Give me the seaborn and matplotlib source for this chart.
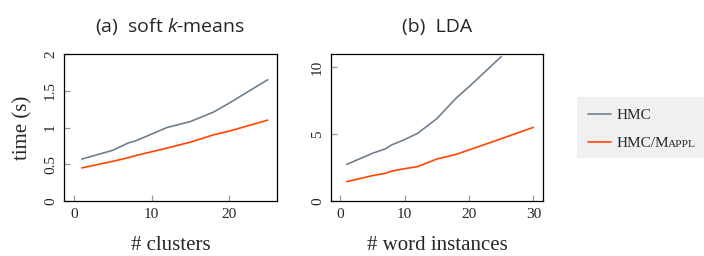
import matplotlib
matplotlib.use("Agg")
import matplotlib.pyplot as plt
from matplotlib.patches import Rectangle
from matplotlib.transforms import IdentityTransform
import seaborn as sns
import pandas as pd

# ---- data ----
methods = ["HMC", "HMC/Mappl"]

kmeans_x_hmc = [1, 5, 7, 8, 10, 12, 15, 18, 20, 25]
kmeans_y_hmc = [0.57, 0.69, 0.79, 0.82, 0.91, 1.00, 1.08, 1.21, 1.33, 1.65]
kmeans_x_mappl = [1, 5, 7, 8, 10, 12, 15, 18, 20, 25]
kmeans_y_mappl = [0.45, 0.54, 0.59, 0.62, 0.67, 0.72, 0.80, 0.90, 0.95, 1.10]

lda_x_hmc = [1, 5, 7, 8, 10, 12, 15, 18, 20, 25]
lda_y_hmc = [2.74, 3.57, 3.90, 4.20, 4.60, 5.06, 6.16, 7.70, 8.55, 10.80]
lda_x_mappl = [1, 5, 7, 8, 10, 12, 15, 18, 20, 25, 30]
lda_y_mappl = [1.45, 1.90, 2.07, 2.24, 2.42, 2.57, 3.14, 3.49, 3.82, 4.66, 5.51]

kmeans_yticks = [0, 0.5, 1, 1.5, 2]
kmeans_yticklabels = ["0", "0.5", "1", "1.5", "2"]
kmeans_xticks = [0, 10, 20]
lda_yticks = [0, 5, 10]
lda_xticks = [0, 10, 20, 30]

titles = ["(a)  soft $k$-means", "(b)  LDA"]
xlabels = ["# clusters", "# word instances"]
ylabel = "time (s)"

colors = {"HMC": "#708090", "HMC/Mappl": "#ff4500"}


def long_df(xh, yh, xm, ym):
    return pd.concat([
        pd.DataFrame({"x": xh, "y": yh, "method": methods[0]}),
        pd.DataFrame({"x": xm, "y": ym, "method": methods[1]}),
    ], ignore_index=True)


df_k = long_df(kmeans_x_hmc, kmeans_y_hmc, kmeans_x_mappl, kmeans_y_mappl)
df_l = long_df(lda_x_hmc, lda_y_hmc, lda_x_mappl, lda_y_mappl)

sns.set_theme(style="ticks")
plt.rcParams["font.family"] = ["Liberation Serif", "DejaVu Serif"]
plt.rcParams["mathtext.fontset"] = "custom"
plt.rcParams["mathtext.it"] = "Open Sans:italic"
plt.rcParams["mathtext.rm"] = "Open Sans"

W, H = 704, 256
fig = plt.figure(figsize=(W / 100, H / 100), dpi=100)

ax1 = fig.add_axes([64 / W, 55 / H, 213 / W, 147 / H])
ax2 = fig.add_axes([331 / W, 55 / H, 212 / W, 147 / H])

sns.lineplot(data=df_k, x="x", y="y", hue="method", palette=colors,
             ax=ax1, linewidth=1.2, legend=False)
sns.lineplot(data=df_l, x="x", y="y", hue="method", palette=colors,
             ax=ax2, linewidth=1.2, legend=True)

ax1.set_xlim(-1.3, 26.2)
ax1.set_ylim(0, 2)
ax1.set_yticks(kmeans_yticks)
ax1.set_yticklabels(kmeans_yticklabels)
ax1.set_xticks(kmeans_xticks)

ax2.set_xlim(-1.45, 31.5)
ax2.set_ylim(0, 11)
ax2.set_yticks(lda_yticks)
ax2.set_xticks(lda_xticks)

for ax, t, xl in zip([ax1, ax2], titles, xlabels):
    ax.set_title(t, fontfamily="Open Sans", fontsize=14, pad=16)
    ax.set_xlabel(xl, fontsize=15, labelpad=11)
    ax.set_ylabel("")
    ax.tick_params(axis="both", direction="in", length=4, width=0.9,
                   color="#999999", labelsize=11, pad=5, top=False, right=False)
    for lab in ax.get_yticklabels():
        lab.set_rotation(90)
        lab.set_va("center")
    for s in ax.spines.values():
        s.set_color("black")
        s.set_linewidth(0.9)
        s.set_visible(True)
    ax.grid(False)

ax1.set_ylabel(ylabel, fontsize=15, labelpad=8)

# legend
handles, labels = ax2.get_legend_handles_labels()
ax2.get_legend().remove()
fig.patches.append(Rectangle((577 / W, (H - 158) / H), 127 / W, 61 / H,
                             transform=fig.transFigure, facecolor="#f0f0f0",
                             edgecolor="none", zorder=0))
disp_labels = ["HMC", "HMC/M"]
leg = fig.legend(handles, disp_labels, loc="upper left",
                 bbox_to_anchor=(577 / W, (H - 97) / H), frameon=False,
                 fontsize=11, handlelength=1.45, handletextpad=0.4,
                 borderpad=0.75, labelspacing=0.95, borderaxespad=0)
for h in leg.legend_handles:
    h.set_linewidth(1.2)

fig.canvas.draw()
t = leg.get_texts()[1]
bb = t.get_window_extent()
bx, by = t.get_transform().transform(t.get_position())
fig.text(bb.x1 - 1.0, by, "APPL", fontsize=8.2, va="baseline", ha="left",
         transform=IdentityTransform())

fig.savefig("out.png", dpi=100)
